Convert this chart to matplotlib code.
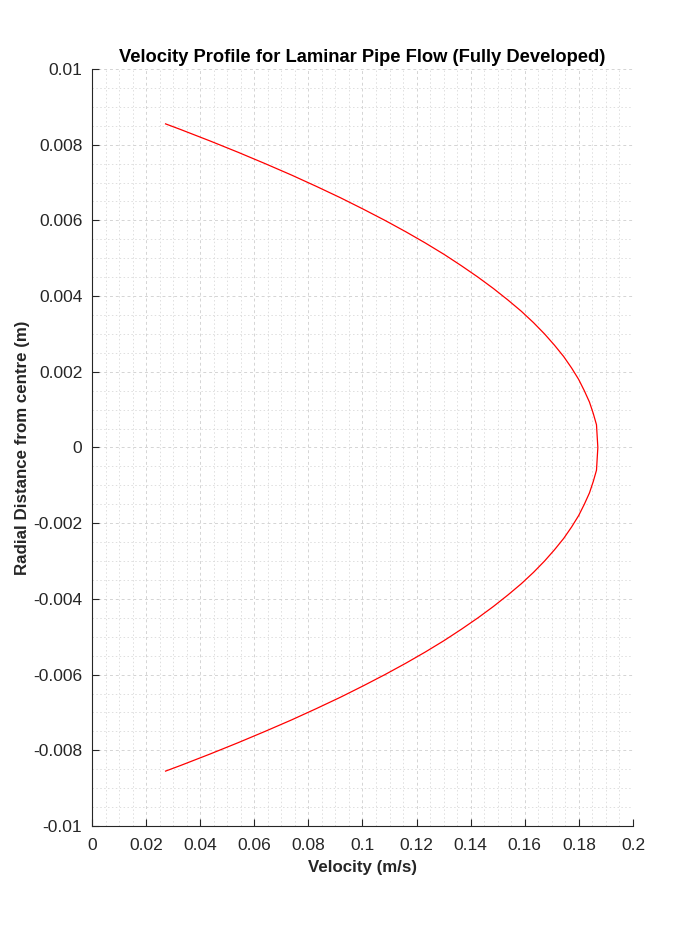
import numpy as np
import matplotlib
matplotlib.use("Agg")
import matplotlib.pyplot as plt
from matplotlib.ticker import MultipleLocator

plt.rcParams['font.family'] = ['Liberation Sans', 'DejaVu Sans']

# radial positions (m) and velocities (m/s)
radius = [-0.00855, -0.0084, -0.0081, -0.0078, -0.0075, -0.0072, -0.0069, -0.0066,
          -0.0063, -0.0060, -0.0057, -0.0054, -0.0051, -0.0048, -0.0045, -0.0042,
          -0.0039, -0.0036, -0.0033, -0.0030, -0.0027, -0.0024, -0.0021, -0.0018,
          -0.0015, -0.0012, -0.0009, -0.0006, 0.0,
          0.0006, 0.0009, 0.0012, 0.0015, 0.0018, 0.0021, 0.0024, 0.0027,
          0.0030, 0.0033, 0.0036, 0.0039, 0.0042, 0.0045, 0.0048, 0.0051,
          0.0054, 0.0057, 0.0060, 0.0063, 0.0066, 0.0069, 0.0072, 0.0075,
          0.0078, 0.0081, 0.0084, 0.00855]
velocity = [0.0272, 0.0328, 0.0436, 0.0540, 0.0640, 0.0737, 0.0829, 0.0918,
            0.1002, 0.1083, 0.1160, 0.1233, 0.1302, 0.1366, 0.1427, 0.1484,
            0.1537, 0.1587, 0.1632, 0.1673, 0.1710, 0.1744, 0.1773, 0.1799,
            0.1820, 0.1839, 0.1853, 0.1865, 0.1870,
            0.1865, 0.1853, 0.1839, 0.1820, 0.1799, 0.1773, 0.1744, 0.1710,
            0.1673, 0.1632, 0.1587, 0.1537, 0.1484, 0.1427, 0.1366, 0.1302,
            0.1233, 0.1160, 0.1083, 0.1002, 0.0918, 0.0829, 0.0737, 0.0640,
            0.0540, 0.0436, 0.0328, 0.0272]

axis_col = '#262626'

fig = plt.figure(figsize=(7, 9.26), dpi=100)
ax = fig.add_axes([0.1314, 0.108, 0.7729, 0.8175])

ax.plot(velocity, radius, color='red', lw=0.9)

ax.set_xlim(0, 0.2)
ax.set_ylim(-0.01, 0.01)
ax.xaxis.set_major_locator(MultipleLocator(0.02))
ax.xaxis.set_minor_locator(MultipleLocator(0.005))
ax.yaxis.set_major_locator(MultipleLocator(0.002))
ax.yaxis.set_minor_locator(MultipleLocator(0.0005))
ax.set_xticklabels([('0' if abs(v) < 1e-12 else f'{v:g}') for v in ax.get_xticks()])
ax.set_yticklabels([('0' if abs(v) < 1e-12 else f'{v:g}') for v in ax.get_yticks()])

ax.grid(which='major', color='#d4d4d4', linestyle=(0, (3, 3)), lw=0.7)
ax.grid(which='minor', color='#dedede', linestyle=(0, (1.5, 2.5)), lw=0.7)
ax.set_axisbelow(True)

for s in ['top', 'right']:
    ax.spines[s].set_visible(False)
for s in ['left', 'bottom']:
    ax.spines[s].set_color(axis_col)
    ax.spines[s].set_linewidth(0.8)
ax.tick_params(which='major', direction='in', length=5, width=0.8, color=axis_col,
               labelcolor=axis_col, labelsize=12.5, pad=7)
ax.tick_params(axis='x', which='major', pad=9)
ax.tick_params(which='minor', length=0)

ax.set_title('Velocity Profile for Laminar Pipe Flow (Fully Developed)',
             fontsize=13.2, fontweight='bold', pad=5)
ax.set_xlabel('Velocity (m/s)', fontsize=12.2, fontweight='bold', color=axis_col, labelpad=5)
ax.set_ylabel('Radial Distance from centre (m)', fontsize=12.2, fontweight='bold',
              color=axis_col, labelpad=2)

fig.savefig('out.png', dpi=100)
